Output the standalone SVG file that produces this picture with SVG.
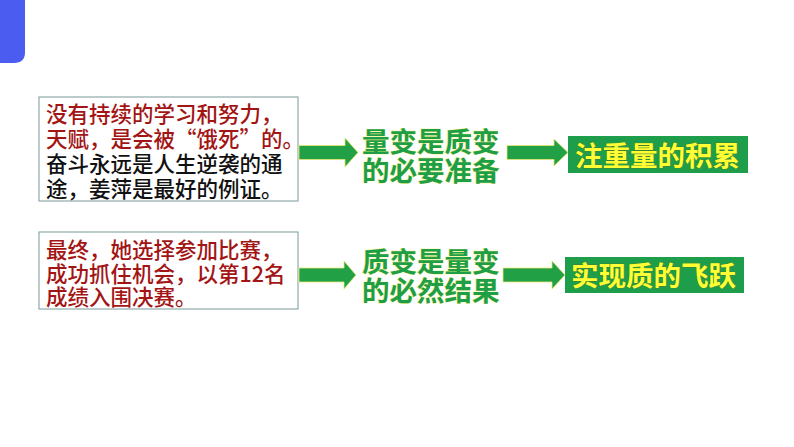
<svg xmlns="http://www.w3.org/2000/svg" width="794" height="447" viewBox="0 0 794 447">
<style>
.box{fill:#fff;stroke:#8fa9a9;stroke-width:1.2}
.t{font-family:"Noto Sans CJK SC","Noto Sans",sans-serif;font-size:21.5px;font-weight:500}
.red{fill:#a31515}
.blk{fill:#111}
.mid{font-family:"Noto Sans CJK SC","Noto Sans",sans-serif;font-size:27.5px;font-weight:bold;fill:#1f9e48;stroke:#f2f26a;stroke-width:0.7;paint-order:stroke}
.gbox{fill:#1e9e4a}
.gt{font-family:"Noto Sans CJK SC","Noto Sans",sans-serif;font-size:27.5px;font-weight:bold;fill:#ffff33;stroke:#5a6a20;stroke-width:0.5;paint-order:stroke}
.arr{fill:#21a046;stroke:#e8e870;stroke-width:0.8}
</style>
<path d="M0,0 H25 V52 Q25,63 14,63 H0 Z" fill="#4b5cf0"/>
<g id="box1">
<rect class="box" x="39" y="97" width="259" height="104"/>
<text class="t red" x="46" y="121.5">没有持续的学习和努力，</text>
<text class="t red" x="46" y="146.5">天赋，是会被“饿死”的。</text>
<text class="t blk" x="46" y="171.5">奋斗永远是人生逆袭的通</text>
<text class="t blk" x="46" y="196.5">途，姜萍是最好的例证。</text>
</g>
<g id="box2">
<rect class="box" x="39" y="232" width="259" height="77"/>
<text class="t red" x="46" y="257.5">最终，她选择参加比赛，</text>
<text class="t red" x="46" y="281.5">成功抓住机会，以第12名</text>
<text class="t red" x="46" y="304.5">成绩入围决赛。</text>
</g>
<g id="mid1">
<text class="mid" x="362" y="151.5">量变是质变</text>
<text class="mid" x="362" y="180.5">的必要准备</text>
</g>
<g id="mid2">
<text class="mid" x="362" y="271.5">质变是量变</text>
<text class="mid" x="362" y="300.5">的必然结果</text>
</g>
<g id="res1">
<rect class="gbox" x="568" y="136" width="180" height="37"/>
<text class="gt" x="575" y="165.5">注重量的积累</text>
</g>
<g id="res2">
<rect class="gbox" x="565" y="257" width="179" height="36"/>
<text class="gt" x="571" y="285.5">实现质的飞跃</text>
</g>
<g id="connectors">
<polygon class="arr" points="299,145.5 345,145.5 345,138 358,152.5 345,167 345,159.5 299,159.5"/>
<polygon class="arr" points="507,145.5 554,145.5 554,139 568,152.5 554,166 554,159.5 507,159.5"/>
<polygon class="arr" points="299,268 344,268 344,261 356,275 344,289 344,282 299,282"/>
<polygon class="arr" points="503,268 552,268 552,261 565,275 552,289 552,282 503,282"/>
</g>
</svg>
